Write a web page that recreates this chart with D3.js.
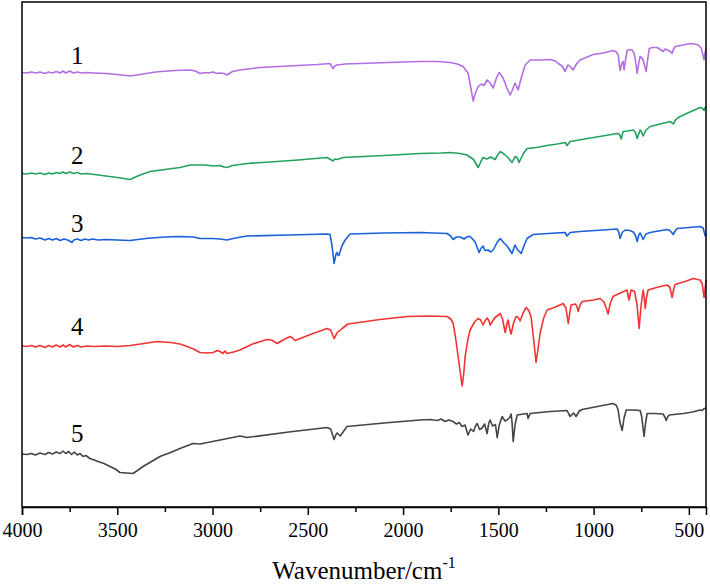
<!DOCTYPE html>
<html>
<head>
<meta charset="utf-8">
<script src="https://cdn.jsdelivr.net/npm/d3@7/dist/d3.min.js"></script>
<style>
  html, body { margin: 0; padding: 0; background: #fff; }
  svg { display: block; }
</style>
</head>
<body>
<svg id="chart" width="710" height="586"></svg>
<script>
// ---- data: [wavenumber (cm-1), offset transmittance (a.u.)] ----
const seriesNames = ["1", "2", "3", "4", "5"];
const seriesColors = ["#b46ee4", "#22a25c", "#1a60da", "#f03434", "#444444"];

const spectrum1 = [
  [4000,86.9],[3975,86.8],[3950,87.0],[3930,86.8],[3905,87.0],[3880,86.7],[3860,87.0],[3840,86.8],
  [3820,87.1],[3800,86.8],[3785,87.2],[3770,86.8],[3750,87.2],[3730,86.8],[3710,87.0],[3690,86.8],
  [3660,86.9],[3620,86.8],[3560,86.7],[3500,86.5],[3433,86.2],[3380,86.5],[3300,87.0],[3200,87.3],
  [3118,87.4],[3090,87.2],[3066,86.7],[3040,86.9],[3020,86.8],[2997,87.0],[2975,86.7],[2961,86.8],
  [2940,86.7],[2924,86.4],[2895,87.1],[2856,87.4],[2751,87.9],[2600,88.2],[2450,88.5],[2383,88.7],
  [2367,87.7],[2358,88.2],[2346,88.4],[2304,88.6],[2150,88.8],[2000,89.0],[1911,89.1],[1820,89.1],
  [1753,88.9],[1715,88.6],[1685,88.1],[1659,86.8],[1645,84.0],[1632,81.2],[1620,82.8],[1606,84.1],
  [1590,84.6],[1575,84.3],[1559,85.4],[1545,84.9],[1527,83.8],[1510,85.8],[1496,86.9],[1485,86.4],
  [1475,85.8],[1455,83.8],[1438,82.4],[1425,83.5],[1412,84.8],[1405,84.2],[1396,83.4],[1380,85.8],
  [1359,88.4],[1333,89.4],[1280,89.4],[1228,89.5],[1200,89.2],[1186,88.7],[1165,88.2],[1149,87.1],
  [1140,88.0],[1133,88.4],[1120,88.0],[1107,87.4],[1090,88.6],[1071,89.4],[1002,90.5],[950,90.8],
  [898,91.3],[880,91.0],[871,90.4],[861,87.3],[853,88.6],[845,89.1],[840,87.4],[832,89.5],
  [824,91.3],[810,91.5],[798,91.4],[788,90.8],[782,89.7],[771,86.7],[763,88.8],[756,90.1],
  [748,89.9],[740,89.4],[724,87.1],[716,89.5],[708,91.7],[690,91.9],[666,91.9],[650,91.5],
  [635,91.1],[625,91.6],[614,91.4],[600,91.2],[588,90.7],[580,91.6],[572,92.1],[530,92.4],
  [493,92.7],[470,92.6],[451,92.4],[435,91.8],[426,90.4],[420,89.4],[415,90.8],[410,91.7]
];

const spectrum2 = [
  [4000,66.7],[3975,66.6],[3950,66.8],[3930,66.6],[3905,66.8],[3880,66.5],[3860,66.8],[3840,66.6],
  [3820,66.9],[3800,66.7],[3785,67.0],[3770,66.7],[3750,67.0],[3730,66.7],[3710,66.9],[3690,66.6],
  [3660,66.7],[3620,66.5],[3560,66.2],[3500,65.9],[3433,65.5],[3380,66.4],[3328,67.1],[3250,67.5],
  [3171,67.9],[3118,68.4],[3040,68.4],[2990,68.2],[2961,68.3],[2940,68.0],[2924,67.9],[2895,68.3],
  [2819,68.7],[2700,69.0],[2550,69.4],[2399,69.9],[2367,69.2],[2358,69.6],[2346,69.5],[2315,69.9],
  [2100,70.3],[1911,70.7],[1800,70.8],[1753,70.9],[1700,70.7],[1664,70.4],[1630,69.5],[1606,67.9],
  [1590,69.2],[1580,69.9],[1560,69.6],[1540,70.0],[1517,69.5],[1505,70.3],[1490,71.1],[1470,70.6],
  [1450,69.9],[1428,68.9],[1412,70.1],[1400,69.8],[1391,68.9],[1370,70.6],[1349,71.7],[1300,71.9],
  [1244,72.3],[1190,72.6],[1149,72.9],[1139,72.3],[1123,73.1],[1000,73.9],[876,74.7],[865,74.6],
  [855,73.6],[845,75.1],[820,75.2],[792,75.4],[780,74.9],[771,73.7],[756,75.4],[748,75.0],
  [740,74.2],[725,75.4],[703,76.1],[650,76.6],[598,77.1],[588,76.8],[582,76.6],[570,77.4],
  [556,77.9],[500,78.9],[441,79.9],[430,79.8],[420,79.3],[415,79.8],[410,80.1]
];

const spectrum3 = [
  [4000,53.9],[3975,53.8],[3950,53.9],[3930,53.6],[3905,53.8],[3880,53.4],[3860,53.7],[3840,53.4],
  [3820,53.7],[3800,53.3],[3780,53.6],[3760,53.4],[3745,53.1],[3738,52.9],[3728,53.4],[3710,53.6],
  [3690,53.3],[3670,53.6],[3650,53.4],[3630,53.6],[3600,53.4],[3560,53.5],[3500,53.4],[3433,53.3],
  [3350,53.7],[3250,54.0],[3171,54.1],[3100,54.0],[3066,53.7],[3000,53.7],[2960,53.6],[2924,53.4],
  [2880,53.8],[2819,54.2],[2600,54.4],[2399,54.6],[2383,54.5],[2372,52.0],[2362,48.7],[2352,50.6],
  [2346,50.9],[2340,50.3],[2336,50.4],[2320,52.3],[2304,53.4],[2278,54.6],[2100,54.8],[1911,54.9],
  [1769,54.7],[1750,54.2],[1737,53.5],[1720,54.0],[1700,54.0],[1680,53.6],[1660,54.1],[1648,54.1],
  [1635,53.6],[1622,53.0],[1601,50.9],[1590,51.8],[1580,52.2],[1570,51.3],[1554,51.4],[1540,51.0],
  [1527,51.4],[1505,53.0],[1490,53.7],[1470,52.8],[1454,52.2],[1440,51.4],[1428,50.7],[1420,51.6],
  [1412,52.4],[1400,51.5],[1380,50.7],[1365,52.3],[1349,53.7],[1317,54.5],[1200,54.8],[1149,54.9],
  [1139,54.2],[1123,54.9],[1071,55.1],[950,55.4],[876,55.6],[868,55.0],[861,53.7],[850,54.9],
  [834,55.4],[810,55.3],[792,55.0],[780,54.3],[771,53.1],[762,54.5],[756,54.8],[748,54.2],
  [740,53.5],[725,54.6],[703,54.9],[660,55.2],[614,55.5],[600,55.3],[590,54.9],[582,54.5],
  [572,55.2],[561,55.7],[500,55.9],[441,56.1],[425,55.8],[414,54.2],[410,54.7]
];

const spectrum4 = [
  [4000,32.2],[3975,32.1],[3950,32.3],[3930,32.0],[3905,32.3],[3880,31.9],[3860,32.3],[3840,32.0],
  [3820,32.4],[3800,32.0],[3785,32.4],[3770,32.0],[3750,32.5],[3730,32.0],[3710,32.3],[3690,32.0],
  [3660,32.2],[3620,32.1],[3560,32.2],[3500,32.1],[3433,32.3],[3360,32.7],[3291,33.1],[3220,32.9],
  [3171,32.6],[3134,32.1],[3100,31.6],[3066,30.9],[3030,30.8],[2997,30.9],[2975,31.3],[2961,31.1],
  [2945,30.7],[2935,31.2],[2924,30.7],[2890,31.0],[2856,31.4],[2790,32.6],[2740,33.2],[2714,33.5],
  [2690,33.4],[2661,32.7],[2630,33.4],[2593,34.1],[2580,33.8],[2567,33.3],[2480,34.6],[2399,35.7],
  [2380,35.4],[2362,33.7],[2352,34.4],[2346,34.9],[2320,35.7],[2289,36.6],[2121,37.5],[1979,38.1],
  [1860,38.2],[1769,38.1],[1750,37.6],[1737,36.7],[1725,34.0],[1711,30.1],[1700,27.0],[1690,24.2],
  [1682,26.5],[1674,30.1],[1660,33.5],[1648,35.4],[1625,37.0],[1606,37.7],[1593,37.4],[1580,36.4],
  [1570,37.2],[1559,37.8],[1550,37.3],[1543,36.4],[1520,37.8],[1490,38.7],[1478,37.6],[1464,34.9],
  [1455,36.6],[1449,37.4],[1440,35.6],[1433,34.6],[1420,36.8],[1407,38.1],[1395,37.9],[1386,37.2],
  [1370,38.8],[1354,39.9],[1340,39.3],[1328,38.0],[1316,34.0],[1302,28.9],[1292,31.5],[1281,34.7],
  [1262,37.8],[1244,39.4],[1200,40.0],[1160,40.7],[1145,39.8],[1133,36.7],[1125,38.8],[1118,40.4],
  [1097,40.6],[1088,40.2],[1081,39.1],[1070,40.5],[1060,41.1],[1000,41.4],[966,41.7],[945,41.0],
  [932,39.6],[924,38.6],[912,40.8],[898,42.1],[860,42.8],[824,43.4],[818,42.0],[813,41.4],
  [808,42.6],[803,43.4],[785,43.1],[772,40.5],[761,35.7],[751,40.2],[740,43.4],[734,41.8],
  [729,39.7],[722,42.0],[714,43.4],[670,43.9],[614,44.4],[600,44.0],[593,42.8],[588,41.9],
  [580,43.5],[572,44.5],[520,45.1],[477,45.7],[455,45.5],[441,45.4],[430,44.7],[424,43.0],
  [420,41.9],[415,43.6],[410,45.4]
];

const spectrum5 = [
  [4000,10.6],[3975,10.5],[3950,10.7],[3930,10.4],[3905,10.8],[3880,10.5],[3860,10.9],[3840,10.6],
  [3820,11.0],[3800,10.7],[3785,11.2],[3770,10.7],[3755,11.1],[3740,10.5],[3725,11.0],[3710,10.4],
  [3695,10.7],[3680,10.1],[3665,10.3],[3643,9.7],[3600,9.1],[3570,8.7],[3538,8.1],[3510,7.6],
  [3486,6.9],[3450,6.8],[3417,6.7],[3390,7.4],[3365,8.1],[3320,9.1],[3276,10.1],[3220,10.9],
  [3171,11.7],[3102,12.7],[3066,12.6],[2960,13.4],[2856,14.2],[2830,14.0],[2819,13.9],[2600,15.0],
  [2399,15.9],[2380,15.6],[2362,13.5],[2352,14.5],[2346,14.8],[2330,14.2],[2294,16.1],[2100,16.8],
  [1911,17.4],[1858,17.5],[1820,17.3],[1800,17.6],[1780,17.1],[1760,17.4],[1737,17.1],[1720,16.6],
  [1705,16.9],[1690,16.1],[1675,16.4],[1659,14.4],[1645,15.6],[1630,15.1],[1620,16.2],[1611,16.7],
  [1598,15.5],[1585,15.8],[1572,16.6],[1559,14.7],[1550,16.8],[1543,17.4],[1530,16.2],[1515,16.5],
  [1506,13.9],[1495,16.4],[1480,18.1],[1465,17.2],[1454,17.4],[1440,17.9],[1433,18.6],[1428,17.0],
  [1422,13.1],[1412,16.5],[1401,18.4],[1370,18.6],[1349,18.7],[1344,17.7],[1333,18.7],[1228,19.1],
  [1139,19.3],[1130,18.6],[1123,18.1],[1105,18.8],[1092,18.1],[1075,19.2],[1060,19.5],[966,20.2],
  [898,20.7],[880,20.3],[871,19.4],[862,17.0],[850,15.3],[840,17.8],[829,19.4],[790,19.4],
  [756,19.3],[748,18.2],[735,14.1],[727,16.8],[719,18.7],[680,18.7],[635,18.6],[625,17.9],
  [619,17.3],[612,18.0],[603,18.4],[530,18.7],[480,19.0],[441,19.4],[430,19.3],[420,19.7],
  [410,19.7]
];

const spectra = [spectrum1, spectrum2, spectrum3, spectrum4, spectrum5];

// curve label anchor points [wavenumber, value]
const labelPositions = [[3710, 88.6], [3710, 68.6], [3710, 55.0], [3710, 34.4], [3710, 13.0]];

const xTicks = [4000, 3500, 3000, 2500, 2000, 1500, 1000, 500];
const xMinorTicks = [3750, 3250, 2750, 2250, 1750, 1250, 750];
const xDomain = [4000, 410];
const yDomain = [0, 101];
const xTitle = "Wavenumber/cm";
const xTitleSup = "-1";

// ---- layout ----
const svg = d3.select("#chart");
const mLeft = 22, mRight = 706, mTop = 2, mBottom = 507;

const x = d3.scaleLinear().domain(xDomain).range([mLeft, mRight]);
const y = d3.scaleLinear().domain(yDomain).range([mBottom, mTop]);

const line = d3.line().x(d => x(d[0])).y(d => y(d[1]));

// curves
spectra.forEach((s, i) => {
  svg.append("path")
    .datum(s)
    .attr("fill", "none")
    .attr("stroke", seriesColors[i])
    .attr("stroke-width", 1.6)
    .attr("stroke-linejoin", "round")
    .attr("d", line);
});

// curve labels
labelPositions.forEach((p, i) => {
  svg.append("text")
    .attr("x", x(p[0]))
    .attr("y", y(p[1]))
    .attr("text-anchor", "middle")
    .attr("font-family", "'Liberation Serif', 'Times New Roman', serif")
    .attr("font-size", 25)
    .attr("fill", "#000")
    .text(seriesNames[i]);
});

// frame
svg.append("rect")
  .attr("x", mLeft).attr("y", mTop)
  .attr("width", mRight - mLeft).attr("height", mBottom - mTop)
  .attr("fill", "none").attr("stroke", "#000").attr("stroke-width", 1.5);

// x axis
const xAxis = d3.axisBottom(x).tickValues(xTicks).tickSize(8).tickPadding(8).tickFormat(d3.format("d"));
const gx = svg.append("g").attr("transform", `translate(0,${mBottom})`).call(xAxis);
gx.select(".domain").attr("stroke-width", 1.5);
gx.selectAll(".tick line").attr("stroke-width", 1.5);
gx.selectAll("text")
  .attr("font-family", "'Liberation Serif', 'Times New Roman', serif")
  .attr("font-size", 20)
  .attr("fill", "#000");

const xMinor = d3.axisBottom(x).tickValues(xMinorTicks).tickSize(5).tickFormat("");
const gxm = svg.append("g").attr("transform", `translate(0,${mBottom})`).call(xMinor);
gxm.select(".domain").remove();
gxm.selectAll(".tick line").attr("stroke-width", 1.5);

// x title
const title = svg.append("text")
  .attr("x", (mLeft + mRight) / 2)
  .attr("y", 579)
  .attr("text-anchor", "middle")
  .attr("font-family", "'Liberation Serif', 'Times New Roman', serif")
  .attr("font-size", 25)
  .attr("fill", "#000");
title.append("tspan").text(xTitle);
title.append("tspan").attr("font-size", 16).attr("dy", -11).text(xTitleSup);
</script>
</body>
</html>
